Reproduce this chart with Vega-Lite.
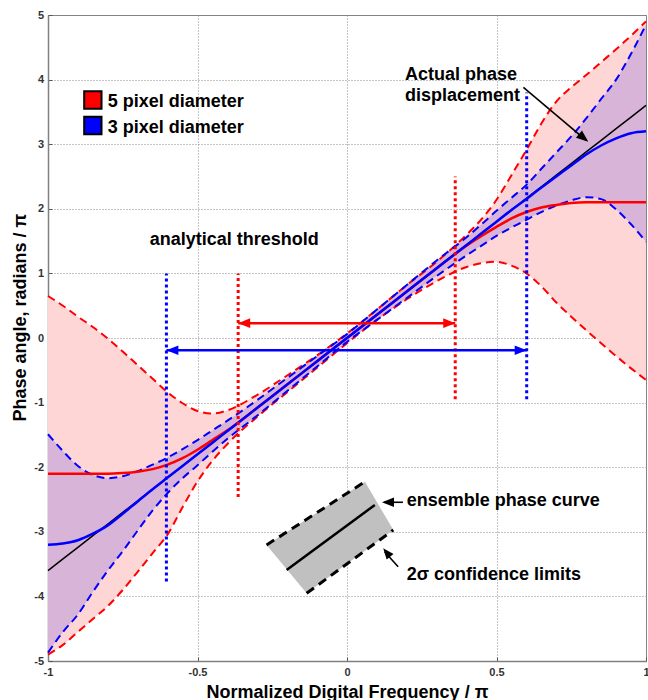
{
  "$schema": "https://vega.github.io/schema/vega-lite/v6.json",
  "width": 598,
  "height": 646,
  "autosize": {"type": "none"},
  "padding": {"left": 48, "top": 15, "right": 2, "bottom": 39},
  "background": "white",
  "config": {
    "view": {"stroke": "#808080", "strokeWidth": 1},
    "font": "Liberation Sans"
  },
  "datasets": {
    "curves": [
      {"x": -1, "ru": 0.65, "rl": -4.9, "bu": -1.49, "bl": -4.87, "r": -2.1, "b": -3.2, "k": -3.6},
      {"x": -0.95, "ru": 0.5, "rl": -4.75, "bu": -1.75, "bl": -4.55, "r": -2.1, "b": -3.18, "k": -3.42},
      {"x": -0.9, "ru": 0.33, "rl": -4.55, "bu": -1.98, "bl": -4.28, "r": -2.1, "b": -3.13, "k": -3.24},
      {"x": -0.85, "ru": 0.17, "rl": -4.35, "bu": -2.12, "bl": -3.93, "r": -2.1, "b": -3.03, "k": -3.06},
      {"x": -0.8, "ru": -0.01, "rl": -4.15, "bu": -2.17, "bl": -3.6, "r": -2.1, "b": -2.9, "k": -2.88},
      {"x": -0.75, "ru": -0.21, "rl": -3.9, "bu": -2.14, "bl": -3.3, "r": -2.09, "b": -2.72, "k": -2.7},
      {"x": -0.7, "ru": -0.42, "rl": -3.62, "bu": -2.06, "bl": -2.98, "r": -2.07, "b": -2.53, "k": -2.52},
      {"x": -0.65, "ru": -0.63, "rl": -3.33, "bu": -1.96, "bl": -2.67, "r": -2.03, "b": -2.34, "k": -2.34},
      {"x": -0.6, "ru": -0.84, "rl": -3.04, "bu": -1.85, "bl": -2.4, "r": -1.96, "b": -2.16, "k": -2.16},
      {"x": -0.55, "ru": -1.01, "rl": -2.62, "bu": -1.72, "bl": -2.17, "r": -1.86, "b": -1.98, "k": -1.98},
      {"x": -0.5, "ru": -1.13, "rl": -2.22, "bu": -1.58, "bl": -1.97, "r": -1.73, "b": -1.8, "k": -1.8},
      {"x": -0.45, "ru": -1.17, "rl": -1.9, "bu": -1.43, "bl": -1.76, "r": -1.58, "b": -1.62, "k": -1.62},
      {"x": -0.4, "ru": -1.12, "rl": -1.64, "bu": -1.28, "bl": -1.56, "r": -1.43, "b": -1.44, "k": -1.44},
      {"x": -0.3, "ru": -0.88, "rl": -1.22, "bu": -0.96, "bl": -1.2, "r": -1.08, "b": -1.08, "k": -1.08},
      {"x": -0.2, "ru": -0.58, "rl": -0.84, "bu": -0.62, "bl": -0.82, "r": -0.72, "b": -0.72, "k": -0.72},
      {"x": -0.1, "ru": -0.27, "rl": -0.46, "bu": -0.28, "bl": -0.44, "r": -0.36, "b": -0.36, "k": -0.36},
      {"x": 0, "ru": 0.07, "rl": -0.08, "bu": 0.06, "bl": -0.06, "r": 0, "b": 0, "k": 0},
      {"x": 0.1, "ru": 0.44, "rl": 0.28, "bu": 0.44, "bl": 0.28, "r": 0.36, "b": 0.36, "k": 0.36},
      {"x": 0.2, "ru": 0.82, "rl": 0.6, "bu": 0.82, "bl": 0.62, "r": 0.72, "b": 0.72, "k": 0.72},
      {"x": 0.3, "ru": 1.18, "rl": 0.88, "bu": 1.2, "bl": 0.96, "r": 1.08, "b": 1.08, "k": 1.08},
      {"x": 0.4, "ru": 1.6, "rl": 1.1, "bu": 1.56, "bl": 1.28, "r": 1.43, "b": 1.44, "k": 1.44},
      {"x": 0.45, "ru": 1.84, "rl": 1.16, "bu": 1.76, "bl": 1.43, "r": 1.58, "b": 1.62, "k": 1.62},
      {"x": 0.5, "ru": 2.14, "rl": 1.18, "bu": 1.97, "bl": 1.58, "r": 1.72, "b": 1.8, "k": 1.8},
      {"x": 0.55, "ru": 2.52, "rl": 1.12, "bu": 2.17, "bl": 1.71, "r": 1.85, "b": 1.98, "k": 1.98},
      {"x": 0.6, "ru": 2.91, "rl": 1.0, "bu": 2.37, "bl": 1.83, "r": 1.95, "b": 2.15, "k": 2.16},
      {"x": 0.65, "ru": 3.32, "rl": 0.8, "bu": 2.62, "bl": 1.95, "r": 2.02, "b": 2.33, "k": 2.34},
      {"x": 0.7, "ru": 3.66, "rl": 0.55, "bu": 2.87, "bl": 2.05, "r": 2.06, "b": 2.5, "k": 2.52},
      {"x": 0.75, "ru": 3.88, "rl": 0.33, "bu": 3.12, "bl": 2.13, "r": 2.09, "b": 2.67, "k": 2.7},
      {"x": 0.8, "ru": 4.07, "rl": 0.12, "bu": 3.4, "bl": 2.18, "r": 2.1, "b": 2.84, "k": 2.88},
      {"x": 0.85, "ru": 4.27, "rl": -0.08, "bu": 3.7, "bl": 2.15, "r": 2.1, "b": 2.98, "k": 3.06},
      {"x": 0.9, "ru": 4.47, "rl": -0.28, "bu": 4.0, "bl": 1.99, "r": 2.1, "b": 3.09, "k": 3.24},
      {"x": 0.95, "ru": 4.68, "rl": -0.47, "bu": 4.4, "bl": 1.76, "r": 2.1, "b": 3.17, "k": 3.42},
      {"x": 1, "ru": 4.9, "rl": -0.65, "bu": 4.85, "bl": 1.49, "r": 2.1, "b": 3.2, "k": 3.6}
    ],
    "inset": [
      {"x": -0.269, "top": -3.204, "bottom": -3.204},
      {"x": -0.135, "top": -2.805, "bottom": -3.952},
      {"x": 0.06, "top": -2.225, "bottom": -3.293},
      {"x": 0.155, "top": -2.972, "bottom": -2.972}
    ],
    "insetEdges": [
      {"x": -0.269, "y": -3.204, "edge": "upper"},
      {"x": 0.06, "y": -2.225, "edge": "upper"},
      {"x": -0.135, "y": -3.952, "edge": "lower"},
      {"x": 0.155, "y": -2.972, "edge": "lower"},
      {"x": -0.202, "y": -3.59, "edge": "center"},
      {"x": 0.093, "y": -2.585, "edge": "center"}
    ],
    "vlines": [
      {"x": -0.604, "lo": -3.77, "hi": 1.0, "g": "3 pixel diameter"},
      {"x": 0.601, "lo": -0.95, "hi": 3.8, "g": "3 pixel diameter"},
      {"x": -0.364, "lo": -2.46, "hi": 1.0, "g": "5 pixel diameter"},
      {"x": 0.362, "lo": -0.95, "hi": 2.5, "g": "5 pixel diameter"}
    ],
    "harrows": [
      {"x": -0.364, "x2": 0.362, "y": 0.23, "g": "5 pixel diameter"},
      {"x": -0.604, "x2": 0.601, "y": -0.19, "g": "3 pixel diameter"}
    ],
    "pointers": [
      {"x": 0.59, "y": 3.88, "x2": 0.8, "y2": 3.06},
      {"x": 0.187, "y": -2.543, "x2": 0.125, "y2": -2.543},
      {"x": 0.171, "y": -3.54, "x2": 0.126, "y2": -3.31}
    ],
    "heads": [
      {"x": -0.364, "y": 0.23, "dir": "left", "g": "5 pixel diameter"},
      {"x": 0.362, "y": 0.23, "dir": "right", "g": "5 pixel diameter"},
      {"x": -0.604, "y": -0.19, "dir": "left", "g": "3 pixel diameter"},
      {"x": 0.601, "y": -0.19, "dir": "right", "g": "3 pixel diameter"},
      {"x": 0.807, "y": 3.039, "dir": "downright", "g": "annotation"},
      {"x": 0.117, "y": -2.543, "dir": "left", "g": "annotation"},
      {"x": 0.121, "y": -3.255, "dir": "upleft", "g": "annotation"}
    ],
    "legend": [
      {"x": -0.85, "y": 3.684, "g": "5 pixel diameter"},
      {"x": -0.85, "y": 3.29, "g": "3 pixel diameter"}
    ],
    "labels": [
      {"x": -0.8, "y": 3.571, "text": "5 pixel diameter"},
      {"x": -0.8, "y": 3.178, "text": "3 pixel diameter"},
      {"x": -0.66, "y": 1.44, "text": "analytical threshold"},
      {"x": 0.194, "y": 3.994, "text": "Actual phase"},
      {"x": 0.194, "y": 3.669, "text": "displacement"},
      {"x": 0.1995, "y": -2.601, "text": "ensemble phase curve"},
      {"x": 0.1995, "y": -3.746, "text": "2σ confidence limits"}
    ]
  },
  "encoding": {
    "x": {
      "field": "x",
      "type": "quantitative",
      "scale": {"domain": [-1, 1], "nice": false, "zero": false},
      "axis": {
        "title": "Normalized Digital Frequency / π",
        "values": [-1, -0.5, 0, 0.5, 1],
        "labelExpr": "'' + datum.value",
        "grid": true, "gridDash": [1, 2], "gridColor": "#8a8a8a", "gridOpacity": 1,
        "domainColor": "#808080", "domainWidth": 1.5,
        "ticks": true, "tickSize": -4, "tickColor": "#555555",
        "labelFont": "Liberation Sans", "labelFontSize": 11, "labelFontWeight": "bold", "labelColor": "#333333",
        "labelPadding": 9, "labelFlush": false, "labelOverlap": false,
        "titleFont": "Liberation Sans", "titleFontSize": 18, "titleFontWeight": "bold", "titleColor": "#000000",
        "titleBaseline": "alphabetic", "titleY": 36
      }
    }
  },
  "layer": [
    {
      "data": {"name": "curves"},
      "mark": {"type": "area", "color": "#FFD6D6", "opacity": 1, "interpolate": "monotone"},
      "encoding": {
        "y": {
          "field": "ru", "type": "quantitative",
          "scale": {"domain": [-5, 5], "nice": false, "zero": false},
          "axis": {
            "title": "Phase angle, radians / π",
            "values": [-5, -4, -3, -2, -1, 0, 1, 2, 3, 4, 5],
            "labelExpr": "'' + datum.value",
            "grid": true, "gridDash": [1, 2], "gridColor": "#8a8a8a", "gridOpacity": 1,
            "domainColor": "#808080", "domainWidth": 1.5,
            "ticks": true, "tickSize": -4, "tickColor": "#555555",
            "labelFont": "Liberation Sans", "labelFontSize": 11, "labelFontWeight": "bold", "labelColor": "#333333",
            "labelPadding": 8.5, "labelFlush": false, "labelOverlap": false,
            "titleFont": "Liberation Sans", "titleFontSize": 18, "titleFontWeight": "bold", "titleColor": "#000000",
            "titleAngle": -90, "titleAlign": "left", "titleBaseline": "alphabetic", "titleX": -23, "titleY": 406
          }
        },
        "y2": {"field": "rl"}
      }
    },
    {
      "data": {"name": "curves"},
      "mark": {"type": "area", "color": "#D9B4D9", "opacity": 1, "interpolate": "monotone"},
      "encoding": {
        "y": {"field": "bu", "type": "quantitative"},
        "y2": {"field": "bl"}
      }
    },
    {
      "data": {"name": "inset"},
      "mark": {"type": "area", "color": "#C0C0C0", "opacity": 1},
      "encoding": {
        "y": {"field": "top", "type": "quantitative"},
        "y2": {"field": "bottom"}
      }
    },
    {
      "data": {"name": "insetEdges"},
      "transform": [{"filter": "datum.edge != 'center'"}],
      "mark": {"type": "line", "color": "#000000", "strokeWidth": 3, "strokeDash": [9, 6]},
      "encoding": {
        "y": {"field": "y", "type": "quantitative"},
        "detail": {"field": "edge"}
      }
    },
    {
      "data": {"name": "insetEdges"},
      "transform": [{"filter": "datum.edge == 'center'"}],
      "mark": {"type": "line", "color": "#000000", "strokeWidth": 2.5},
      "encoding": {
        "y": {"field": "y", "type": "quantitative"}
      }
    },
    {
      "data": {"name": "curves"},
      "mark": {"type": "line", "color": "#000000", "strokeWidth": 1.5},
      "encoding": {
        "y": {"field": "k", "type": "quantitative"}
      }
    },
    {
      "data": {"name": "curves"},
      "transform": [{"fold": ["ru", "rl"], "as": ["edge", "val"]}],
      "mark": {"type": "line", "color": "#FF0000", "strokeWidth": 2, "strokeDash": [8, 5], "interpolate": "monotone"},
      "encoding": {
        "y": {"field": "val", "type": "quantitative"},
        "detail": {"field": "edge"}
      }
    },
    {
      "data": {"name": "curves"},
      "transform": [{"fold": ["bu", "bl"], "as": ["edge", "val"]}],
      "mark": {"type": "line", "color": "#0000FF", "strokeWidth": 2, "strokeDash": [8, 5], "interpolate": "monotone"},
      "encoding": {
        "y": {"field": "val", "type": "quantitative"},
        "detail": {"field": "edge"}
      }
    },
    {
      "data": {"name": "curves"},
      "mark": {"type": "line", "color": "#FF0000", "strokeWidth": 2.5, "interpolate": "monotone"},
      "encoding": {
        "y": {"field": "r", "type": "quantitative"}
      }
    },
    {
      "data": {"name": "curves"},
      "mark": {"type": "line", "color": "#0000FF", "strokeWidth": 2.5, "interpolate": "monotone"},
      "encoding": {
        "y": {"field": "b", "type": "quantitative"}
      }
    },
    {
      "data": {"name": "vlines"},
      "mark": {"type": "rule", "strokeWidth": 3, "strokeDash": [3, 3]},
      "encoding": {
        "y": {"field": "lo", "type": "quantitative"},
        "y2": {"field": "hi"},
        "color": {"field": "g", "type": "nominal", "legend": null,
          "scale": {"domain": ["5 pixel diameter", "3 pixel diameter", "annotation"], "range": ["#FF0000", "#0000FF", "#000000"]}}
      }
    },
    {
      "data": {"name": "harrows"},
      "mark": {"type": "rule", "strokeWidth": 2.5},
      "encoding": {
        "x2": {"field": "x2"},
        "y": {"field": "y", "type": "quantitative"},
        "color": {"field": "g", "type": "nominal", "legend": null,
          "scale": {"domain": ["5 pixel diameter", "3 pixel diameter", "annotation"], "range": ["#FF0000", "#0000FF", "#000000"]}}
      }
    },
    {
      "data": {"name": "pointers"},
      "mark": {"type": "rule", "strokeWidth": 1.6, "color": "#000000"},
      "encoding": {
        "x2": {"field": "x2"},
        "y": {"field": "y", "type": "quantitative"},
        "y2": {"field": "y2"}
      }
    },
    {
      "data": {"name": "heads"},
      "transform": [{"filter": "datum.dir == 'left'"}],
      "mark": {"type": "point", "filled": true, "opacity": 1, "shape": "M0,0L-0.8,2L0.8,2Z", "size": 144, "angle": 270},
      "encoding": {
        "y": {"field": "y", "type": "quantitative"},
        "color": {"field": "g", "type": "nominal", "legend": null,
          "scale": {"domain": ["5 pixel diameter", "3 pixel diameter", "annotation"], "range": ["#FF0000", "#0000FF", "#000000"]}}
      }
    },
    {
      "data": {"name": "heads"},
      "transform": [{"filter": "datum.dir == 'right'"}],
      "mark": {"type": "point", "filled": true, "opacity": 1, "shape": "M0,0L-0.8,2L0.8,2Z", "size": 144, "angle": 90},
      "encoding": {
        "y": {"field": "y", "type": "quantitative"},
        "color": {"field": "g", "type": "nominal", "legend": null,
          "scale": {"domain": ["5 pixel diameter", "3 pixel diameter", "annotation"], "range": ["#FF0000", "#0000FF", "#000000"]}}
      }
    },
    {
      "data": {"name": "heads"},
      "transform": [{"filter": "datum.dir == 'downright'"}],
      "mark": {"type": "point", "filled": true, "opacity": 1, "shape": "M0,0L-0.8,2L0.8,2Z", "size": 144, "angle": 129},
      "encoding": {
        "y": {"field": "y", "type": "quantitative"},
        "color": {"field": "g", "type": "nominal", "legend": null,
          "scale": {"domain": ["5 pixel diameter", "3 pixel diameter", "annotation"], "range": ["#FF0000", "#0000FF", "#000000"]}}
      }
    },
    {
      "data": {"name": "heads"},
      "transform": [{"filter": "datum.dir == 'upleft'"}],
      "mark": {"type": "point", "filled": true, "opacity": 1, "shape": "M0,0L-0.8,2L0.8,2Z", "size": 121, "angle": 321},
      "encoding": {
        "y": {"field": "y", "type": "quantitative"},
        "color": {"field": "g", "type": "nominal", "legend": null,
          "scale": {"domain": ["5 pixel diameter", "3 pixel diameter", "annotation"], "range": ["#FF0000", "#0000FF", "#000000"]}}
      }
    },
    {
      "data": {"name": "legend"},
      "mark": {"type": "point", "shape": "square", "filled": true, "opacity": 1, "size": 300, "stroke": "#000000", "strokeWidth": 2},
      "encoding": {
        "y": {"field": "y", "type": "quantitative"},
        "color": {"field": "g", "type": "nominal", "legend": null,
          "scale": {"domain": ["5 pixel diameter", "3 pixel diameter", "annotation"], "range": ["#FF0000", "#0000FF", "#000000"]}}
      }
    },
    {
      "data": {"name": "labels"},
      "mark": {"type": "text", "align": "left", "baseline": "alphabetic", "font": "Liberation Sans", "fontSize": 18, "fontWeight": "bold", "color": "#000000"},
      "encoding": {
        "y": {"field": "y", "type": "quantitative"},
        "text": {"field": "text"}
      }
    }
  ]
}
